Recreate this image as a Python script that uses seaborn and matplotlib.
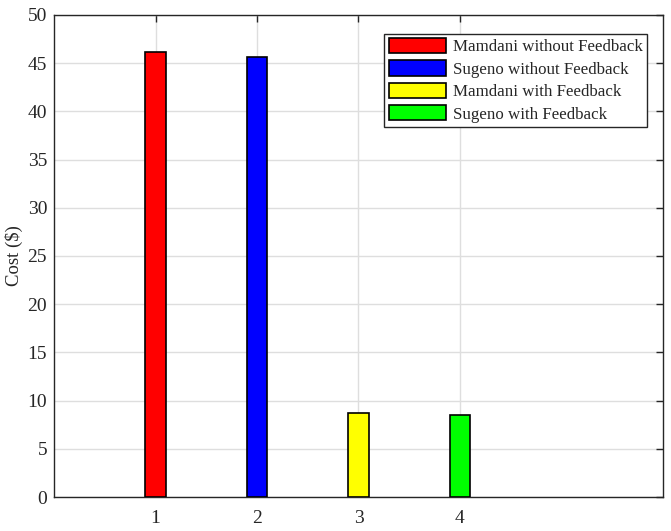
import matplotlib
matplotlib.use('Agg')
import matplotlib.pyplot as plt
import seaborn as sns
import pandas as pd

# bar data
positions = [1, 2, 3, 4]
costs = [46.2, 45.6, 8.7, 8.5]
labels = ['Mamdani without Feedback', 'Sugeno without Feedback',
          'Mamdani with Feedback', 'Sugeno with Feedback']
colors = ['#ff0000', '#0000ff', '#ffff00', '#00ff00']
yticks = [0, 5, 10, 15, 20, 25, 30, 35, 40, 45, 50]

sns.set_style('white')
plt.rcParams['font.family'] = ['Liberation Serif', 'DejaVu Serif']
plt.rcParams['font.size'] = 12
plt.rcParams['mathtext.fontset'] = 'stix'

df = pd.DataFrame({'pos': positions, 'cost': costs, 'label': labels})

fig = plt.figure(figsize=(6.71, 5.31), dpi=100)
ax = fig.add_axes([0.0805, 0.064, 0.9075, 0.908])

sns.barplot(data=df, x='pos', y='cost', hue='label', hue_order=labels,
            palette=colors, native_scale=True, width=0.2, dodge=False,
            edgecolor='black', linewidth=1.2, saturation=1, ax=ax, zorder=3)

ax.set_xlim(0, 6)
ax.set_ylim(0, 50)
ax.set_xticks(positions)
ax.set_yticks(yticks)
ax.set_xlabel('')
ax.set_ylabel('Cost (\\$)', fontsize=13.5, labelpad=3, color='#262626')
ax.grid(True, color='#dedede', linewidth=1, zorder=0)
ax.set_axisbelow(True)
ax.tick_params(direction='in', top=True, right=True, length=5, width=1,
               labelsize=14, colors='#262626')
ax.tick_params(axis='x', pad=9)
ax.tick_params(axis='y', pad=5)
for s in ax.spines.values():
    s.set_color('#262626')
    s.set_linewidth(1)
    s.set_visible(True)

leg = ax.legend(loc='upper right', bbox_to_anchor=(0.974, 0.961), fontsize=12.2,
                borderaxespad=0, handlelength=3.4, handleheight=1.0,
                borderpad=0.25, labelspacing=0.3, handletextpad=0.4,
                fancybox=False, framealpha=1, edgecolor='#262626')
leg.get_frame().set_linewidth(1)

fig.savefig('out.png', dpi=100)
